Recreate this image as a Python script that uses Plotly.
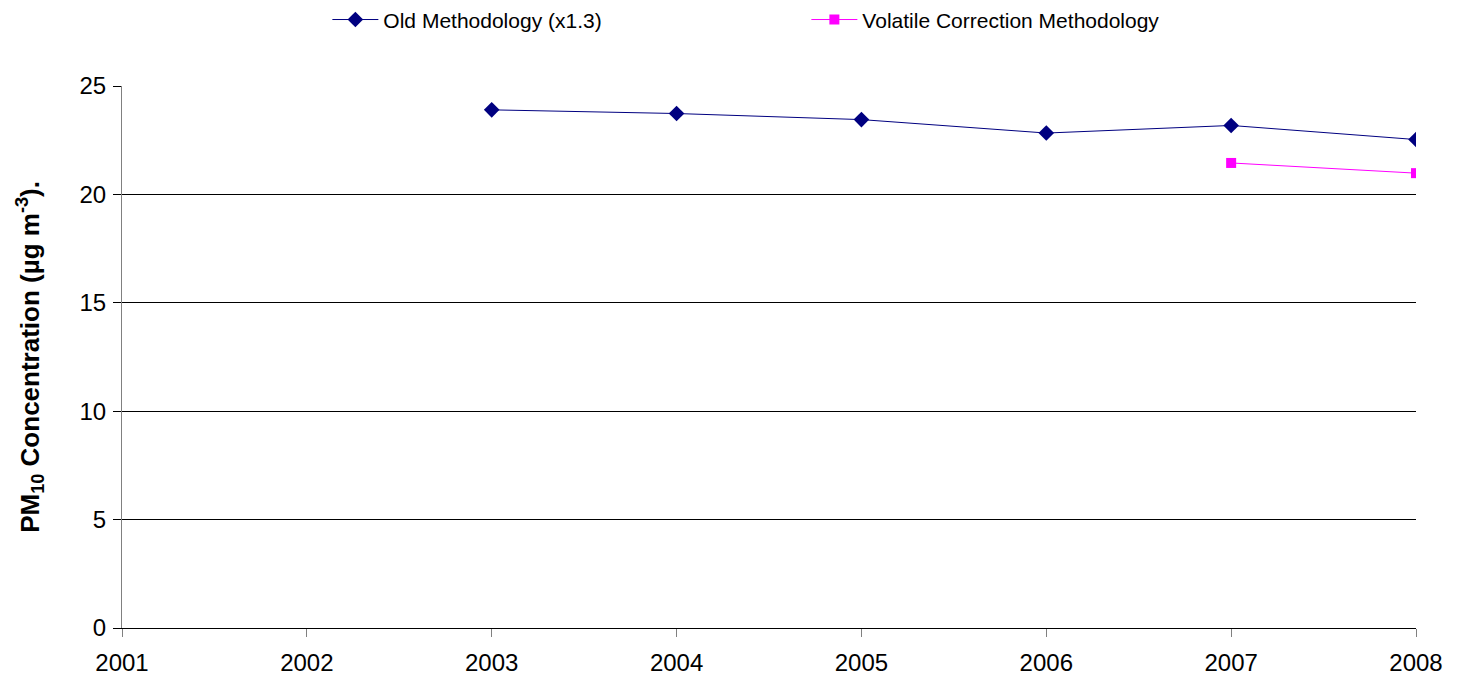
import plotly.graph_objects as go

years = [2001, 2002, 2003, 2004, 2005, 2006, 2007, 2008]
old_years = [2003, 2004, 2005, 2006, 2007, 2008]
old_values = [23.9, 23.73, 23.45, 22.83, 23.18, 22.53]
vc_years = [2007, 2008]
vc_values = [21.45, 20.98]
y_ticks = [0, 5, 10, 15, 20, 25]
y_title = "PM<sub>10</sub> Concentration (µg m<sup>-3</sup>)."

fig = go.Figure()
fig.add_trace(go.Scatter(
    x=old_years, y=old_values, mode="lines+markers",
    name="Old Methodology (x1.3)",
    line=dict(color="#000080", width=1),
    marker=dict(symbol="diamond", size=12, color="#000080"),
))
fig.add_trace(go.Scatter(
    x=vc_years, y=vc_values, mode="lines+markers",
    name="Volatile Correction Methodology",
    line=dict(color="#FF00FF", width=1),
    marker=dict(symbol="square", size=10, color="#FF00FF"),
))

fig.add_annotation(
    text=y_title, textangle=-90, showarrow=False,
    xref="paper", yref="paper", x=-0.0712, y=0.5,
    xanchor="center", yanchor="middle",
    font=dict(size=26, weight="bold", color="black"),
)

fig.update_layout(
    width=1465, height=682,
    margin=dict(l=114, r=57, t=78, b=62, autoexpand=False),
    paper_bgcolor="white", plot_bgcolor="white",
    font=dict(family="Liberation Sans, Arial, sans-serif", color="black"),
    legend=dict(
        orientation="h", xref="container", yref="paper",
        x=0.218, xanchor="left", y=1.122, yanchor="middle",
        entrywidth=418, entrywidthmode="pixels",
        font=dict(size=21), itemwidth=46,
    ),
    xaxis=dict(
        range=[2001, 2008], tickvals=years, ticktext=[str(y) for y in years],
        showgrid=False, zeroline=False,
        showline=True, linecolor="black", linewidth=1,
        ticks="outside", ticklen=8, tickcolor="#808080", tickwidth=1,
        tickfont=dict(size=24), ticklabelstandoff=5,
    ),
    yaxis=dict(
        range=[0, 25], tickvals=y_ticks,
        showgrid=True, gridcolor="black", gridwidth=1,
        zeroline=False,
        showline=True, linecolor="#808080", linewidth=1,
        ticks="outside", ticklen=8, tickcolor="black", tickwidth=1,
        tickfont=dict(size=24), ticklabelstandoff=2,
    ),
)
fig.write_html("out.html")
